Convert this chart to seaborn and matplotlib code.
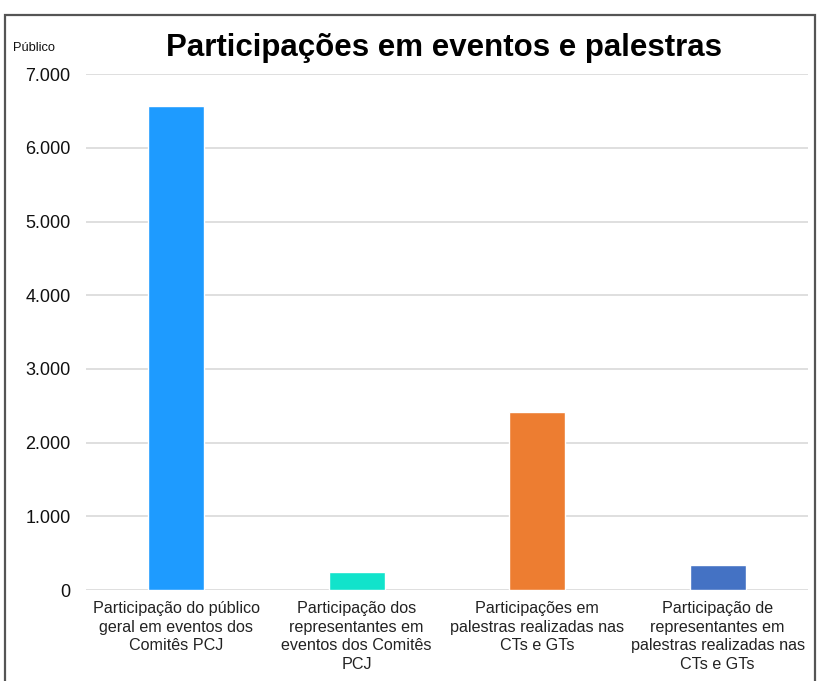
import matplotlib
matplotlib.use("Agg")
import matplotlib.pyplot as plt
import seaborn as sns
import pandas as pd
from matplotlib.ticker import FuncFormatter
from matplotlib.patches import Rectangle

sns.set_style("white")
plt.rcParams["font.family"] = ["Liberation Sans", "DejaVu Sans"]

categorias = [
    "Participação do público\ngeral em eventos dos\nComitês PCJ",
    "Participação dos\nrepresentantes em\neventos dos Comitês\nPCJ",
    "Participações em\npalestras realizadas nas\nCTs e GTs",
    "Participação de\nrepresentantes em\npalestras realizadas nas\nCTs e GTs",
]
publico = [6570, 240, 2415, 335]
cores = ["#1E9BFF", "#11E3CB", "#ED7D31", "#4472C4"]
yticks = [0, 1000, 2000, 3000, 4000, 5000, 6000, 7000]

df = pd.DataFrame({"Categoria": categorias, "Publico": publico})

fig = plt.figure(figsize=(8.17, 6.81), dpi=100)
ax = fig.add_axes([0.105, 0.1336, 0.884, 0.7576])

sns.barplot(x="Categoria", y="Publico", hue="Categoria", data=df,
            palette=cores, width=0.31, legend=False, saturation=1, ax=ax)

ax.set_ylim(0, 7000)
ax.set_yticks(yticks)
ax.yaxis.set_major_formatter(FuncFormatter(lambda v, p: f"{v:,.0f}".replace(",", ".")))
ax.set_xlim(-0.5, 3.5)
ax.grid(axis="y", color="#d9d9d9", linewidth=1.2)
ax.set_axisbelow(True)
for s in ax.spines.values():
    s.set_visible(False)
ax.tick_params(axis="y", length=0, pad=11, labelsize=13, labelcolor="#111111")
ax.tick_params(axis="x", length=0, pad=8, labelsize=11.6, labelcolor="#222222")
for lbl in ax.get_xticklabels():
    lbl.set_multialignment("center")
    lbl.set_linespacing(1.3)
ax.set_xlabel("")
ax.set_ylabel("")

fig.text(0.543, 0.929, "Participações em eventos e palestras", ha="center", va="center",
         fontsize=22.5, fontweight="bold", color="black")
fig.text(0.016, 0.929, "Público", ha="left", va="center", fontsize=9.3, color="#111111")

fig.patches.append(Rectangle((5 / 817, -0.05), 810 / 817, 1 - 15 / 681 + 0.05,
                             transform=fig.transFigure, fill=False,
                             edgecolor="#555555", linewidth=1.6))

plt.savefig("out.png", dpi=100)
